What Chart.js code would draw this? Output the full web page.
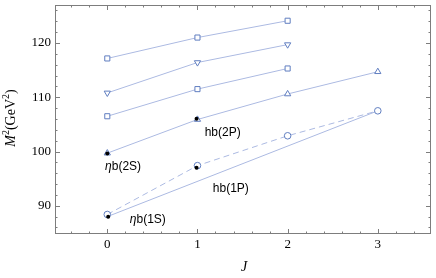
<!DOCTYPE html>
<html lang="en">
<head>
    <meta charset="UTF-8">
    <title>Bottomonium Regge trajectories</title>
    <script src="https://cdn.jsdelivr.net/npm/chart.js"></script>
    <style>
        * { margin: 0; padding: 0; box-sizing: border-box; }
        body { background: #fff; width: 436px; height: 278px; overflow: hidden; }
        #wrap { position: relative; width: 436px; height: 278px; }
        canvas { display: block; }
    </style>
</head>
<body>
    <div id="wrap"><canvas id="regge" width="436" height="278"></canvas></div>

    <script>
        // J values and M^2 (GeV^2)
        const jAll = [0, 1, 2, 3];
        const topSquares = [117.15, 121.0, 124.1];
        const downTriangles = [110.8, 116.4, 119.7];
        const midSquares = [106.5, 111.5, 115.3];
        const upTriangles = [99.7, 105.9, 110.6, 114.7];
        const circles = [88.4, 97.4, 102.9, 107.5];
        const fitLineJ = [0, 3];
        const fitLine = [88.0, 107.5];
        const expJ = [0.01, 0.99, 0.0, 0.99];
        const expM2 = [88.0, 97.0, 99.65, 106.05];

        const xTicks = [0, 1, 2, 3];
        const yTicks = [90, 100, 110, 120];

        // state labels: [J, M^2, italic prefix, rest]
        const stateLabels = [
            [-0.025, 97.2, 'η', 'b(2S)'],
            [0.25, 87.4, 'η', 'b(1S)'],
            [1.17, 93.2, '', 'hb(1P)'],
            [1.08, 103.5, '', 'hb(2P)']
        ];

        const lineCol = 'rgb(172,186,226)';
        const markCol = 'rgb(96,126,192)';

        function pts(xs, ys) {
            return ys.map((y, i) => ({ x: xs[i], y: y }));
        }

        function series(data, style, rot) {
            return {
                data: data,
                showLine: true,
                borderColor: lineCol,
                borderWidth: 1,
                pointStyle: style,
                rotation: rot || 0,
                pointRadius: style === 'circle' ? 3.3 : 3.6,
                pointBorderColor: markCol,
                pointBackgroundColor: '#fff',
                pointBorderWidth: 1
            };
        }

        // frame with inward ticks, tick labels and axis titles
        const decor = {
            id: 'decor',
            afterDatasetsDraw(chart) {
                const ctx = chart.ctx;
                const a = chart.chartArea;
                const xs = chart.scales.x, ys = chart.scales.y;
                ctx.save();
                ctx.strokeStyle = 'rgb(125,125,125)';
                ctx.lineWidth = 1;
                ctx.strokeRect(Math.round(a.left) + 0.5, Math.round(a.top) + 0.5,
                    Math.round(a.right - a.left) - 1, Math.round(a.bottom - a.top) - 1);

                ctx.beginPath();
                for (let v = -0.4; v < 3.5; v += 0.2) {
                    const major = Math.abs(v - Math.round(v)) < 1e-6;
                    const len = major ? 5 : 2.5;
                    const px = Math.round(xs.getPixelForValue(v)) + 0.5;
                    ctx.moveTo(px, a.bottom); ctx.lineTo(px, a.bottom - len);
                    ctx.moveTo(px, a.top); ctx.lineTo(px, a.top + len);
                }
                for (let v = 86; v <= 126; v += 2) {
                    const major = v % 10 === 0;
                    const len = major ? 5 : 2.5;
                    const py = Math.round(ys.getPixelForValue(v)) + 0.5;
                    ctx.moveTo(a.left, py); ctx.lineTo(a.left + len, py);
                    ctx.moveTo(a.right, py); ctx.lineTo(a.right - len, py);
                }
                ctx.stroke();

                ctx.fillStyle = '#000';
                ctx.font = '13px "Liberation Serif"';
                ctx.textBaseline = 'middle';
                ctx.textAlign = 'right';
                yTicks.forEach(v => ctx.fillText(String(v), a.left - 4, ys.getPixelForValue(v)));
                ctx.textAlign = 'center';
                xTicks.forEach(v => ctx.fillText(String(v), xs.getPixelForValue(v), a.bottom + 11));

                ctx.textAlign = 'left';
                stateLabels.forEach(l => {
                    let px = xs.getPixelForValue(l[0]);
                    const py = ys.getPixelForValue(l[1]);
                    if (l[2]) {
                        ctx.font = 'italic 12px "Liberation Sans"';
                        ctx.fillText(l[2], px, py);
                        px += ctx.measureText(l[2]).width;
                    }
                    ctx.font = '12px "Liberation Sans"';
                    ctx.fillText(l[3], px, py);
                });

                // y title M^2(GeV^2)
                ctx.save();
                ctx.translate(11, 118);
                ctx.rotate(-Math.PI / 2);
                const parts = [
                    ['italic 14px "Liberation Serif"', 'M', 0],
                    ['10px "Liberation Serif"', '2', -5],
                    ['14px "Liberation Serif"', '(GeV', 0],
                    ['10px "Liberation Serif"', '2', -5],
                    ['14px "Liberation Serif"', ')', 0]
                ];
                let total = 0;
                parts.forEach(p => { ctx.font = p[0]; total += ctx.measureText(p[1]).width; });
                let cx = -total / 2;
                parts.forEach(p => {
                    ctx.font = p[0];
                    ctx.fillText(p[1], cx, p[2]);
                    cx += ctx.measureText(p[1]).width;
                });
                ctx.restore();

                ctx.font = 'italic 14px "Liberation Serif"';
                ctx.textAlign = 'center';
                ctx.fillText('J', (a.left + a.right) / 2 + 1, 267);
                ctx.restore();
            }
        };

        new Chart(document.getElementById('regge'), {
            type: 'scatter',
            data: {
                datasets: [
                    series(pts(jAll, topSquares), 'rect'),
                    series(pts(jAll, downTriangles), 'triangle', 180),
                    series(pts(jAll, midSquares), 'rect'),
                    series(pts(jAll, upTriangles), 'triangle'),
                    Object.assign(series(pts(jAll, circles), 'circle'), { borderDash: [6, 4] }),
                    {
                        data: pts(fitLineJ, fitLine),
                        showLine: true,
                        borderColor: lineCol,
                        borderWidth: 1,
                        pointRadius: 0
                    },
                    {
                        data: pts(expJ, expM2),
                        showLine: false,
                        order: -1,
                        pointStyle: 'circle',
                        pointRadius: 2,
                        pointBackgroundColor: '#000',
                        pointBorderColor: '#000',
                        pointBorderWidth: 0
                    }
                ]
            },
            options: {
                responsive: false,
                animation: false,
                devicePixelRatio: 1,
                layout: { padding: { top: 1.5, right: 3, left: 0, bottom: 0 } },
                plugins: { legend: { display: false }, tooltip: { enabled: false } },
                scales: {
                    x: {
                        type: 'linear',
                        min: -0.58,
                        max: 3.59,
                        grid: { display: false, drawTicks: false },
                        border: { display: false },
                        ticks: { display: false },
                        afterFit: s => { s.height = 44; }
                    },
                    y: {
                        min: 84.8,
                        max: 127,
                        grid: { display: false, drawTicks: false },
                        border: { display: false },
                        ticks: { display: false },
                        afterFit: s => { s.width = 55; }
                    }
                }
            },
            plugins: [decor]
        });
    </script>
</body>
</html>
